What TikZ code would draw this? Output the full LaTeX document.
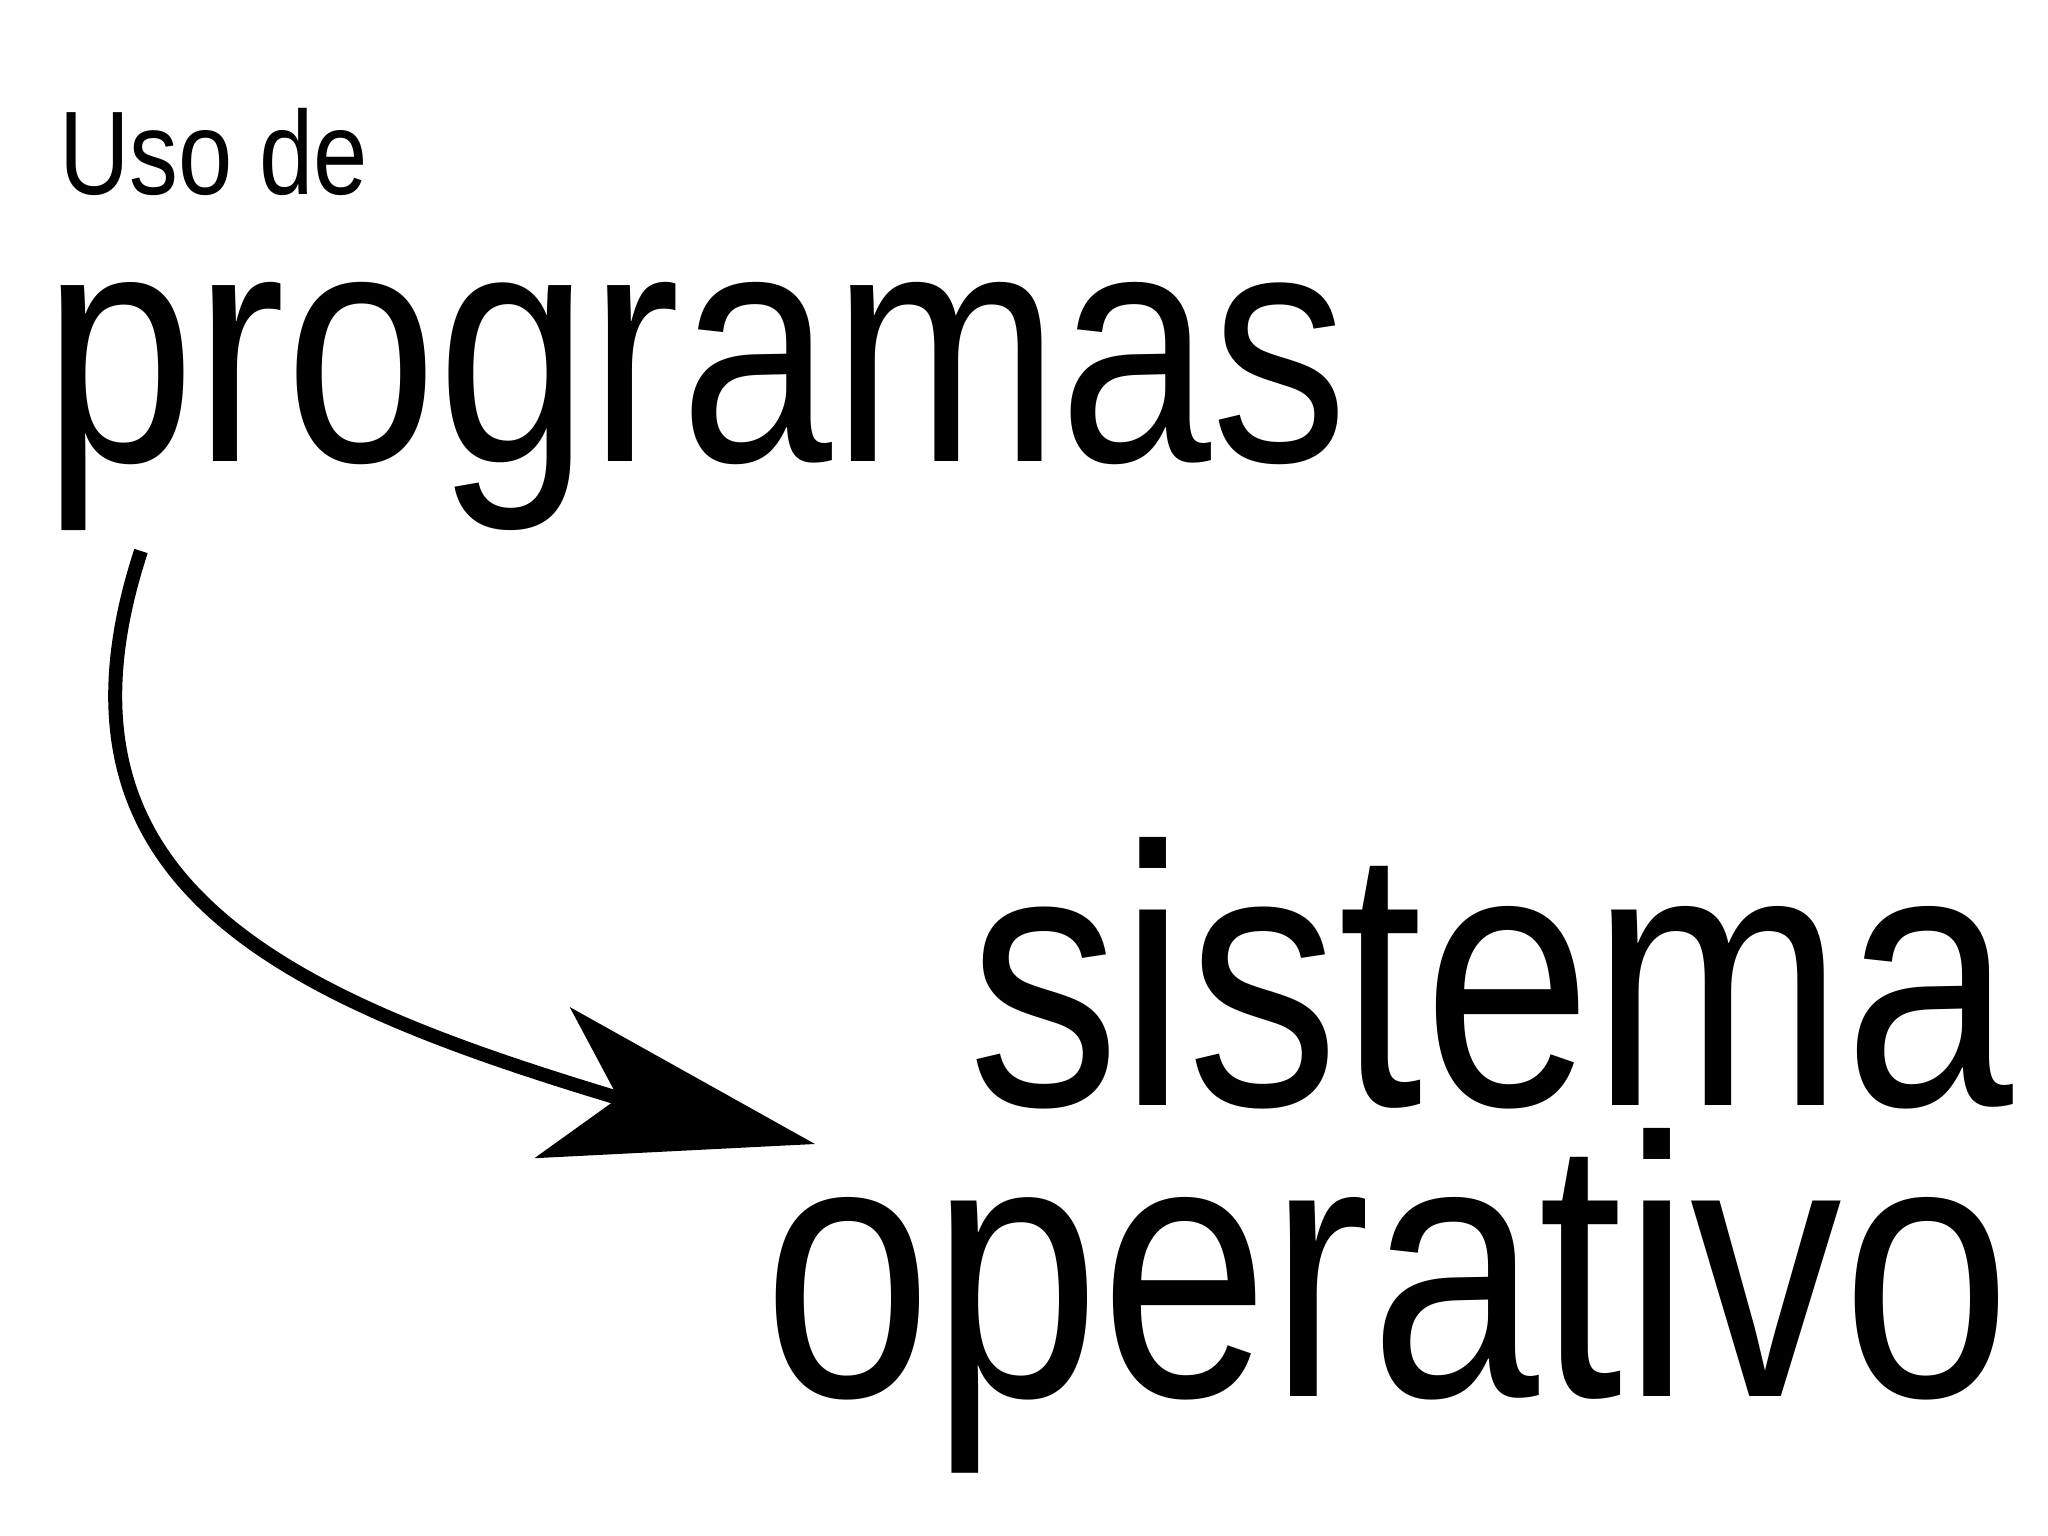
\documentclass[tikz,border=0pt]{standalone}
\usepackage{fontspec}
\newfontfamily\narrowsans[FakeStretch=0.82]{Liberation Sans}
\usetikzlibrary{arrows.meta}
\tikzset{
  word/.style={anchor=base west, inner sep=0pt, outer sep=0pt, text=black},
  small/.style={word, font=\narrowsans\fontsize{119}{125}\selectfont,
    text height=86pt, text depth=0pt},
  mid/.style={word, font=\narrowsans\fontsize{333}{340}\selectfont,
    text height=176pt, text depth=68pt},
  large/.style={word, font=\narrowsans\fontsize{370}{380}\selectfont,
    text height=265pt},
  curvearrow/.style={line width=14pt, black,
    -{Stealth[length=269pt, width=154pt, inset=67pt]}}
}
\begin{document}
\begin{tikzpicture}[x=1pt, y=-1pt]
  \useasboundingbox[fill=white] (0,0) rectangle (2048,1535);
  \node[small] (uso) at (59,194) {Uso de};
  \node[mid] (prog) at (43,461) {programas};
  \node[large, text depth=0pt] (sis) at (968,1105) {sistema};
  \node[large, text height=262pt, text depth=78pt] (oper) at (763,1396) {operativo};
  \coordinate (start) at (141,551);
  \coordinate (notch) at (618,1098);
  \coordinate (tip) at (815,1144);
  \draw[curvearrow] (start) .. controls (32,884) and (283,997) .. (notch) -- (tip);
\end{tikzpicture}
\end{document}
